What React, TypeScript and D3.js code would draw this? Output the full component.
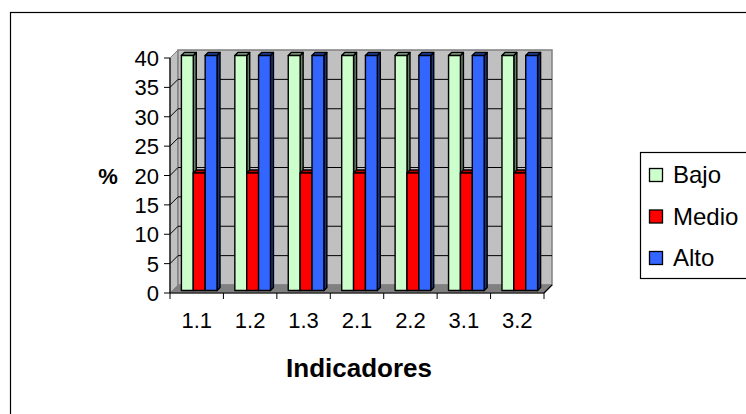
import React from "react";
import * as d3 from "d3";

const categories = ["1.1", "1.2", "1.3", "2.1", "2.2", "3.1", "3.2"];
const seriesNames = ["Bajo", "Medio", "Alto"];
const bajo = [40, 40, 40, 40, 40, 40, 40];
const medio = [20, 20, 20, 20, 20, 20, 20];
const alto = [40, 40, 40, 40, 40, 40, 40];
const yTicks = [0, 5, 10, 15, 20, 25, 30, 35, 40];

const seriesValues = [bajo, medio, alto];
const colors = [
  { front: "#CCFFCC", side: "#668066", top: "#99BF99" },
  { front: "#FF0000", side: "#800000", top: "#BF0000" },
  { front: "#3366FF", side: "#1A3380", top: "#264CBF" },
];

const W = 746;
const H = 414;
const X0 = 170;
const X1 = 544;
const Y0 = 293;
const Y40 = 58;
const DEPTH = 8;
const F1 = 2.5;
const F2 = 5.5;
const FONT = "Liberation Sans, Arial, sans-serif";

export default function App() {
  const x = d3.scaleBand<string>().domain(categories).range([X0, X1]).padding(0);
  const bw = x.bandwidth();
  const gap = (bw / 4.5) * 1.5;
  const xs = d3
    .scaleBand<string>()
    .domain(seriesNames)
    .range([gap / 2, bw - gap / 2])
    .padding(0);
  const y = d3.scaleLinear().domain([0, 40]).range([Y0, Y40]);
  const bwid = xs.bandwidth();

  const bars: React.ReactNode[] = [];
  categories.forEach((c, ci) => {
    seriesNames.forEach((s, si) => {
      const v = seriesValues[si][ci];
      const xl = (x(c) as number) + (xs(s) as number) + F1;
      const xr = xl + bwid;
      const yt = y(v) - F1;
      const yb = y(0) - F1;
      const d = F2 - F1;
      const col = colors[si];
      bars.push(
        <g key={`${ci}-${si}`} stroke="#000" strokeWidth={1.4} strokeLinejoin="round">
          <polygon
            points={`${xr},${yt} ${xr + d},${yt - d} ${xr + d},${yb - d} ${xr},${yb}`}
            fill={col.side}
          />
          <polygon
            points={`${xl},${yt} ${xl + d},${yt - d} ${xr + d},${yt - d} ${xr},${yt}`}
            fill={col.top}
          />
          <rect x={xl} y={yt} width={bwid} height={yb - yt} fill={col.front} />
        </g>
      );
    });
  });

  return (
    <svg
      width={W}
      height={H}
      style={{ position: "absolute", left: 0, top: 0, background: "#fff" }}
      fontFamily={FONT}
    >
      <rect x={10.5} y={12.5} width={W} height={H} fill="#fff" stroke="#000" strokeWidth={1.2} />
      {/* side wall */}
      <polygon
        points={`${X0},${y(40)} ${X0 + DEPTH},${y(40) - DEPTH} ${X0 + DEPTH},${y(0) - DEPTH} ${X0},${y(0)}`}
        fill="#C0C0C0"
        stroke="#808080"
      />
      {/* back wall */}
      <rect
        x={X0 + DEPTH}
        y={y(40) - DEPTH}
        width={X1 - X0}
        height={y(0) - y(40)}
        fill="#C0C0C0"
        stroke="#808080"
        strokeWidth={1.5}
      />
      {/* floor */}
      <polygon
        points={`${X0},${y(0)} ${X0 + DEPTH},${y(0) - DEPTH} ${X1 + DEPTH},${y(0) - DEPTH} ${X1},${y(0)}`}
        fill="#808080"
        stroke="#808080"
      />
      {/* gridlines */}
      {yTicks
        .filter((t) => t > 0 && t < 40)
        .map((t) => (
          <g key={`g${t}`} stroke="#000" strokeWidth={1}>
            <line x1={X0} y1={y(t)} x2={X0 + DEPTH} y2={y(t) - DEPTH} />
            <line x1={X0 + DEPTH} y1={y(t) - DEPTH} x2={X1 + DEPTH} y2={y(t) - DEPTH} />
          </g>
        ))}
      {bars}
      {/* axes */}
      <line x1={X0} y1={y(40)} x2={X0} y2={y(0)} stroke="#000" strokeWidth={1.2} />
      <line x1={X0} y1={y(0)} x2={X1} y2={y(0)} stroke="#000" strokeWidth={1.2} />
      <line x1={X1} y1={y(0)} x2={X1 + DEPTH} y2={y(0) - DEPTH} stroke="#000" strokeWidth={1.2} />
      {yTicks.map((t) => (
        <g key={`yt${t}`}>
          <line x1={X0 - 6} y1={y(t)} x2={X0} y2={y(t)} stroke="#000" />
          <text x={X0 - 11} y={y(t) + 8} textAnchor="end" fontSize={22}>
            {t}
          </text>
        </g>
      ))}
      {categories.map((c, i) => (
        <line
          key={`xt${i}`}
          x1={x(c) as number}
          y1={y(0)}
          x2={x(c) as number}
          y2={y(0) + 6}
          stroke="#000"
        />
      ))}
      <line x1={X1} y1={y(0)} x2={X1} y2={y(0) + 6} stroke="#000" />
      {categories.map((c) => (
        <text
          key={`xl${c}`}
          x={(x(c) as number) + bw / 2}
          y={328}
          textAnchor="middle"
          fontSize={22}
        >
          {c}
        </text>
      ))}
      <text x={(X0 + X1) / 2 + 2} y={377} textAnchor="middle" fontSize={26} fontWeight="bold">
        Indicadores
      </text>
      <text x={108} y={184} textAnchor="middle" fontSize={22} fontWeight="bold">
        %
      </text>
      {/* legend */}
      <rect x={640.5} y={152.5} width={140} height={126} fill="#fff" stroke="#000" strokeWidth={1.2} />
      {seriesNames.map((s, i) => {
        const cy = 175 + i * 41.5;
        return (
          <g key={`lg${s}`}>
            <rect
              x={649.5}
              y={cy - 6.5}
              width={13}
              height={13}
              fill={colors[i].front}
              stroke="#000"
              strokeWidth={1.3}
            />
            <text x={673} y={cy + 8} fontSize={24}>
              {s}
            </text>
          </g>
        );
      })}
    </svg>
  );
}
